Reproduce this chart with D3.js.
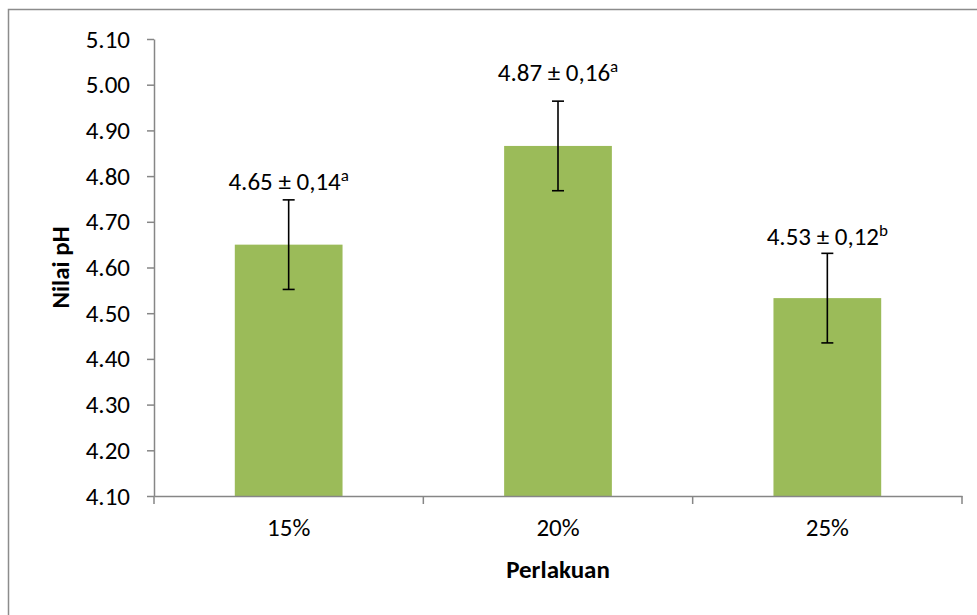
<!DOCTYPE html>
<html>
<head>
<meta charset="utf-8">
<script src="https://cdn.jsdelivr.net/npm/d3@7"></script>
<style>
  html, body { margin: 0; padding: 0; background: #fff; }
  svg { display: block; }
  text { font-family: Carlito, Calibri, Lato, "Open Sans", sans-serif; fill: #000; }
</style>
</head>
<body>
<svg id="chart" width="977" height="615"></svg>
<script>
// ---- data ----
const categories = ["15%", "20%", "25%"];
const means = [4.65, 4.866, 4.533];
const errBars = [0.098, 0.098, 0.098];
const labelMain = ["4.65 \u00B1 0,14", "4.87 \u00B1 0,16", "4.53 \u00B1 0,12"];
const labelSup = ["a", "a", "b"];
const yTicks = [4.10, 4.20, 4.30, 4.40, 4.50, 4.60, 4.70, 4.80, 4.90, 5.00, 5.10];
const yTitle = "Nilai pH";
const xTitle = "Perlakuan";

// ---- layout ----
const W = 977, H = 615;
const plot = { left: 154, right: 962, top: 39, bottom: 496 };
const labelGap = [10, 20, 8];
const axisColor = "#868686";
const FS = 25;
const FF = "Carlito, Calibri, Lato, sans-serif";

const svg = d3.select("#chart");

// outer border
svg.append("rect")
  .attr("x", 8.5).attr("y", 9.5)
  .attr("width", W + 20).attr("height", H + 20)
  .attr("fill", "none").attr("stroke", "#8c8c8c").attr("stroke-width", 1.5);

const x = d3.scaleBand().domain(categories).range([plot.left, plot.right]).padding(0);
const y = d3.scaleLinear().domain([4.10, 5.10]).range([plot.bottom, plot.top]);

const barW = x.bandwidth() * 0.4;

// bars
svg.append("g").selectAll("rect")
  .data(categories)
  .join("rect")
  .attr("x", (d) => x(d) + x.bandwidth() / 2 - barW / 2)
  .attr("y", (d, i) => y(means[i]))
  .attr("width", barW)
  .attr("height", (d, i) => y(4.10) - y(means[i]))
  .attr("fill", "#9BBB59");

// y axis
const yAxis = svg.append("g")
  .attr("transform", `translate(${plot.left},0)`)
  .call(d3.axisLeft(y).tickValues(yTicks).tickFormat(d3.format(".2f")).tickSize(7).tickSizeOuter(0).tickPadding(17));
yAxis.select(".domain").attr("stroke", axisColor).attr("stroke-width", 1.5);
yAxis.selectAll(".tick line").attr("stroke", axisColor).attr("stroke-width", 1.5);
yAxis.selectAll(".tick text").attr("font-size", FS).attr("fill", "#000")
  .style("font-family", FF);

// x axis
const xAxis = svg.append("g")
  .attr("transform", `translate(0,${plot.bottom})`)
  .call(d3.axisBottom(x).tickSize(0).tickSizeOuter(0).tickPadding(22));
xAxis.select(".domain").attr("stroke", axisColor).attr("stroke-width", 1.5);
xAxis.selectAll(".tick text").attr("font-size", FS).attr("fill", "#000")
  .style("font-family", FF);
// boundary ticks
const bounds = categories.map((c) => x(c)).concat([x.range()[1]]);
xAxis.selectAll("line.bound")
  .data(bounds)
  .join("line")
  .attr("class", "bound")
  .attr("x1", (d) => d).attr("x2", (d) => d)
  .attr("y1", 0).attr("y2", 8)
  .attr("stroke", axisColor).attr("stroke-width", 1.5);

// error bars
const cap = 6;
const eg = svg.append("g").attr("stroke", "#000").attr("stroke-width", 1.6);
categories.forEach((c, i) => {
  const cx = x(c) + x.bandwidth() / 2;
  const yt = y(means[i] + errBars[i]);
  const yb = y(means[i] - errBars[i]);
  eg.append("line").attr("x1", cx).attr("x2", cx).attr("y1", yt).attr("y2", yb);
  eg.append("line").attr("x1", cx - cap).attr("x2", cx + cap).attr("y1", yt).attr("y2", yt);
  eg.append("line").attr("x1", cx - cap).attr("x2", cx + cap).attr("y1", yb).attr("y2", yb);
});

// data labels
categories.forEach((c, i) => {
  const cx = x(c) + x.bandwidth() / 2;
  const t = svg.append("text")
    .attr("x", cx)
    .attr("y", y(means[i] + errBars[i]) - labelGap[i])
    .attr("text-anchor", "middle")
    .attr("font-size", FS);
  t.append("tspan").text(labelMain[i]);
  t.append("tspan").attr("dy", -9).attr("font-size", 17).text(labelSup[i]);
});

// axis titles
svg.append("text")
  .attr("transform", `translate(69,${(plot.top + plot.bottom) / 2}) rotate(-90)`)
  .attr("text-anchor", "middle")
  .attr("font-size", FS).attr("font-weight", "bold")
  .text(yTitle);

svg.append("text")
  .attr("x", (plot.left + plot.right) / 2)
  .attr("y", 578)
  .attr("text-anchor", "middle")
  .attr("font-size", FS).attr("font-weight", "bold")
  .text(xTitle);
</script>
</body>
</html>
